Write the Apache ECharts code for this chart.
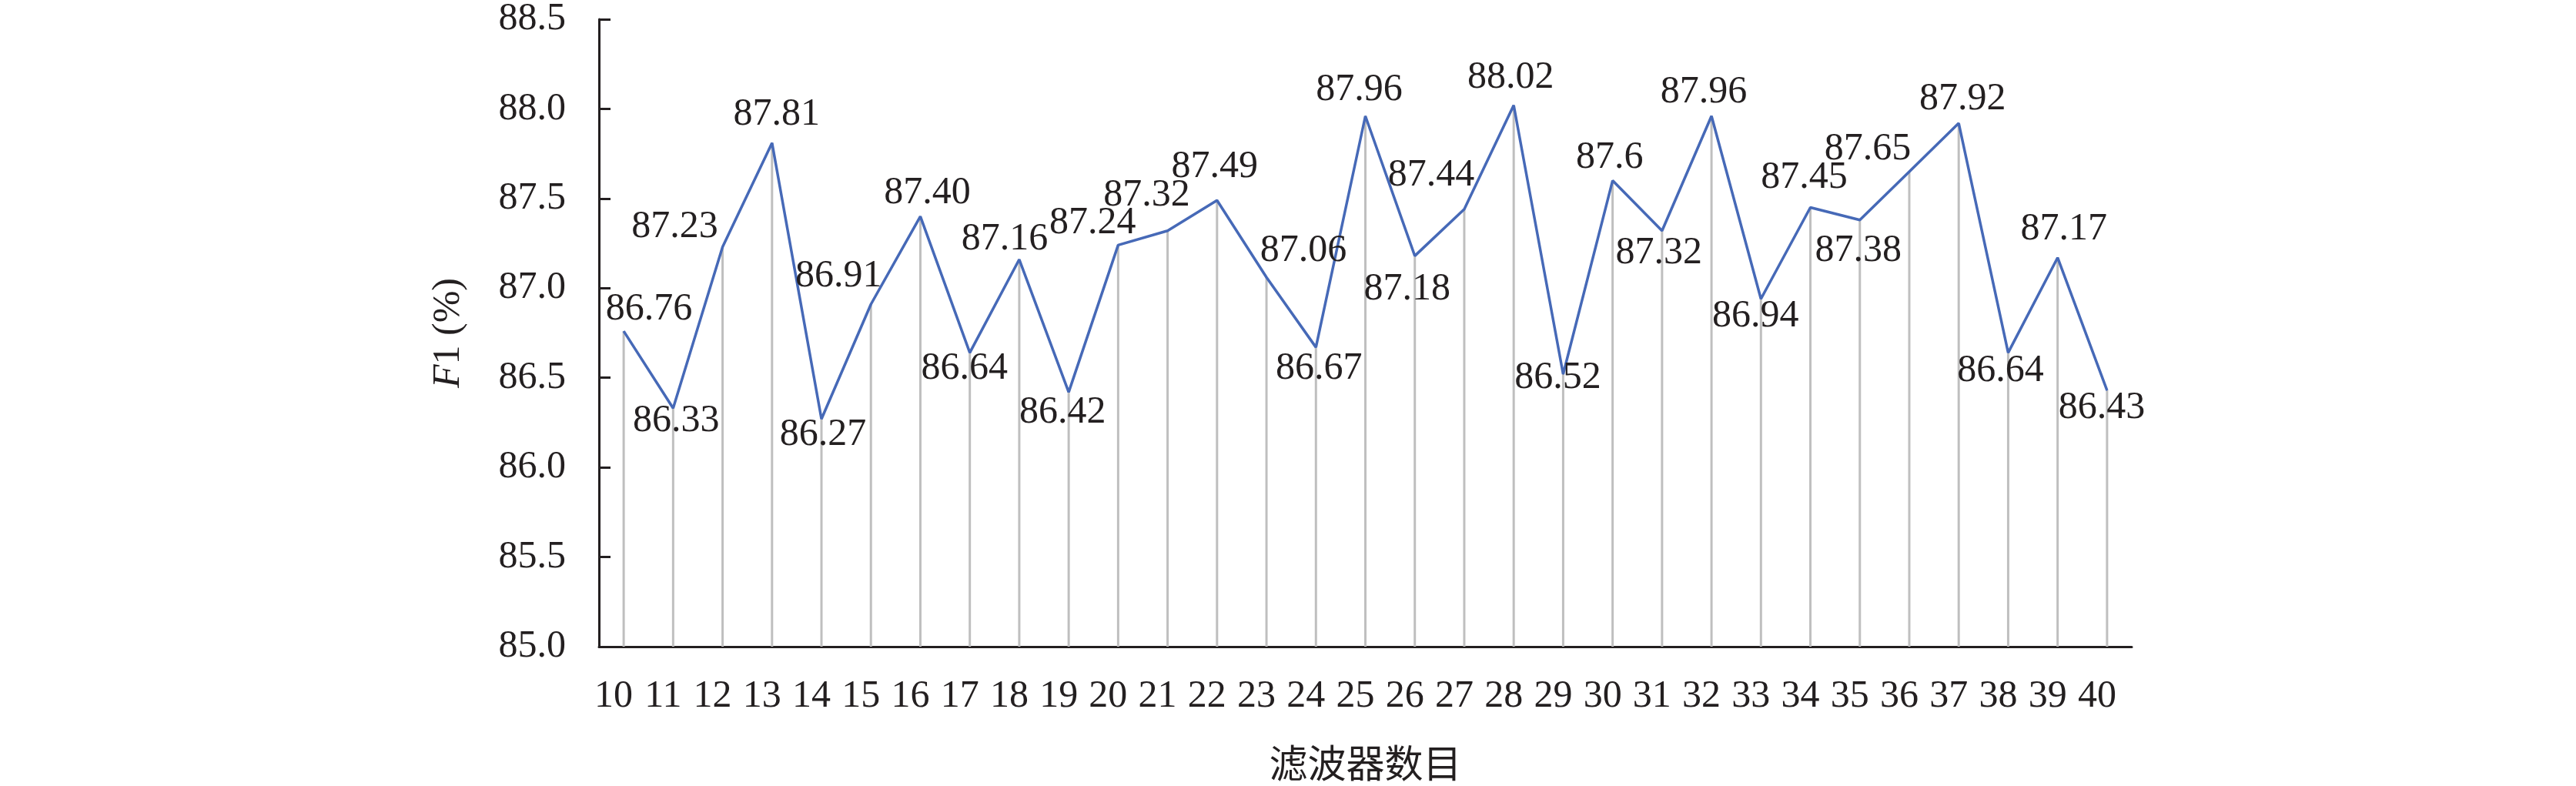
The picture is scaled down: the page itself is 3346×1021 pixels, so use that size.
<!DOCTYPE html>
<html>
<head>
<meta charset="utf-8">
<script src="https://cdn.jsdelivr.net/npm/echarts@6/dist/echarts.min.js"></script>
<style>html,body{margin:0;padding:0;background:#fff}#c{width:3346px;height:1021px}</style>
</head>
<body>
<div id="c"></div>
<script>
const categories = ['10','11','12','13','14','15','16','17','18','19','20','21','22','23','24','25','26','27','28','29','30','31','32','33','34','35','36','37','38','39','40'];
const f1Values = [86.76,86.33,87.23,87.81,86.27,86.91,87.40,86.64,87.16,86.42,87.24,87.32,87.49,87.06,86.67,87.96,87.18,87.44,88.02,86.52,87.60,87.32,87.96,86.94,87.45,87.38,87.65,87.92,86.64,87.17,86.43];
const labelTexts = ['86.76','86.33','87.23','87.81','86.27','86.91','87.40','86.64','87.16','86.42','87.24','87.32','87.49','87.06','86.67','87.96','87.18','87.44','88.02','86.52','87.6','87.32','87.96','86.94','87.45','87.38','87.65','87.92','86.64','87.17','86.43'];
const yTicks = {min: 85.0, max: 88.5, step: 0.5};

// label placement (style only): offset of each data label from its point
const labelOffsets = [[33,-28],[4,17],[-62,-26],[6,-37],[2,21],[-42,-36],[9,-30],[-7,21],[-19,-26],[-8,27],[-33,-29],[-27,-46],[-3,-43],[48,-34],[4,28],[-8,-34],[-10,44],[-43,-44],[-4,-36],[-7,5],[-4,-30],[-4,29],[-10,-31],[-7,23],[-8,-39],[-2,40],[-54,-29],[5,-31],[-10,24],[8,-37],[-7,23]];

const serif = 'Liberation Serif, Times New Roman, serif';
const textColor = '#231f20';
const chart = echarts.init(document.getElementById('c'));
chart.setOption({
  animation: false,
  backgroundColor: '#ffffff',
  grid: {left: 778, right: 577, top: 25, bottom: 177, containLabel: false},
  xAxis: {
    type: 'category',
    data: categories,
    boundaryGap: true,
    name: '滤波器数目',
    nameLocation: 'middle',
    nameGap: 126,
    nameTextStyle: {fontFamily: 'Noto Sans CJK SC', fontSize: 50, color: textColor},
    axisLine: {lineStyle: {color: textColor, width: 3}},
    axisTick: {show: false},
    axisLabel: {fontFamily: serif, fontSize: 50, color: textColor, margin: 40, interval: 0, padding: [0, 26, 0, 0]},
    splitLine: {show: false}
  },
  yAxis: {
    type: 'value',
    min: yTicks.min,
    max: yTicks.max,
    interval: yTicks.step,
    name: '{i|F}1 (%)',
    nameLocation: 'middle',
    nameGap: 170,
    nameRotate: 90,
    nameTextStyle: {fontFamily: serif, fontSize: 50, color: textColor, rich: {i: {fontFamily: serif, fontSize: 50, fontStyle: 'italic', color: textColor}}},
    axisLine: {show: true, lineStyle: {color: textColor, width: 3}},
    axisTick: {show: true, inside: true, length: 15, lineStyle: {color: textColor, width: 3}},
    axisLabel: {fontFamily: serif, fontSize: 50, color: textColor, margin: 43, formatter: v => v.toFixed(1)},
    splitLine: {show: false}
  },
  series: [
    {
      type: 'bar',
      data: f1Values,
      barWidth: 3,
      itemStyle: {color: '#bfbfbf'},
      silent: true,
      z: 1
    },
    {
      type: 'line',
      data: f1Values.map((v, i) => ({
        value: v,
        label: {offset: labelOffsets[i], formatter: labelTexts[i]}
      })),
      symbol: 'circle',
      symbolSize: 1,
      showSymbol: true,
      itemStyle: {color: '#4669b7'},
      lineStyle: {color: '#4669b7', width: 3.5},
      label: {show: true, position: 'inside', fontFamily: serif, fontSize: 50, color: textColor},
      z: 3
    }
  ]
});
</script>
</body>
</html>
